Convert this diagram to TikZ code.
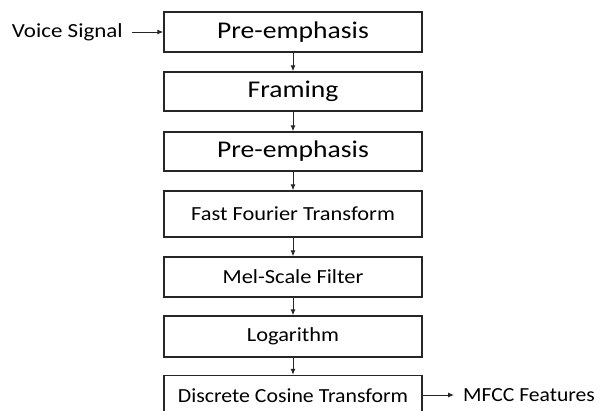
\documentclass[tikz,border=0pt]{standalone}
\usepackage{fontspec}
\setmainfont{Carlito}
\usetikzlibrary{arrows.meta}
\tikzset{
  stage/.style={draw=black!85, line width=1.4pt, minimum width=258pt, inner sep=0pt, align=center},
  bigtext/.style={font=\fontsize{24}{28}\selectfont},
  smalltext/.style={font=\fontsize{20}{24}\selectfont},
  flow/.style={draw=black!85, line width=1pt, -{Latex[length=6pt,width=5pt]}},
  label/.style={font=\fontsize{20}{24}\selectfont, inner ysep=0pt}
}
\newcommand{\wide}[1]{\scalebox{1.15}[1]{#1}}
\newcommand{\widesm}[1]{\scalebox{1.12}[1]{#1}}
\begin{document}
\begin{tikzpicture}[x=1pt,y=-1pt]
  \useasboundingbox (0,0) rectangle (613,410);
  \node[stage, bigtext, minimum height=40pt] (b1) at (293,32) {\wide{Pre-emphasis}};
  \node[stage, bigtext, minimum height=39pt] (b2) at (293,91.5) {\wide{Framing}};
  \node[stage, bigtext, minimum height=39pt] (b3) at (293,151.5) {\wide{Pre-emphasis}};
  \node[stage, smalltext, minimum height=46pt] (b4) at (293,214) {\widesm{Fast Fourier Transform}};
  \node[stage, smalltext, minimum height=40pt] (b5) at (293,277) {\widesm{Mel-Scale Filter}};
  \node[stage, smalltext, minimum height=41pt] (b6) at (293,336.5) {\widesm{Logarithm}};
  \node[stage, smalltext, minimum height=40pt] (b7) at (293,395.5) {\scalebox{1.09}[1]{Discrete Cosine Transform}};

  \node[label, anchor=east, inner xsep=9pt] (vs) at (132,32) {\wide{Voice Signal}};
  \node[label, anchor=west, inner xsep=9pt] (mf) at (454,395) {\scalebox{1.08}[1]{MFCC Features}};

  \draw[flow] (vs) -- (b1);
  \draw[flow] (b1) -- (b2);
  \draw[flow] (b2) -- (b3);
  \draw[flow] (b3) -- (b4);
  \draw[flow] (b4) -- (b5);
  \draw[flow] (b5) -- (b6);
  \draw[flow] (b6) -- (b7);
  \draw[flow] (b7.east |- mf) -- (mf);
\end{tikzpicture}
\end{document}
